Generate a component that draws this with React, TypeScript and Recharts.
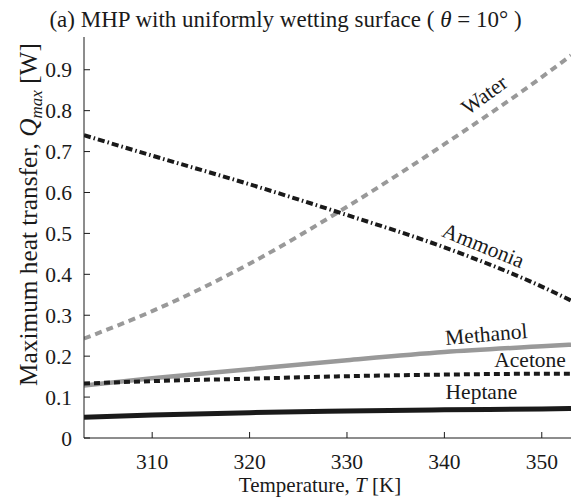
import React from "react";
import { LineChart, Line, XAxis, YAxis, ReferenceDot } from "recharts";

const temps = [303, 310, 320, 330, 340, 350, 353];
const water = [0.243, 0.31, 0.426, 0.565, 0.718, 0.882, 0.935];
const ammonia = [0.74, 0.69, 0.62, 0.545, 0.466, 0.37, 0.336];
const methanol = [0.128, 0.146, 0.168, 0.19, 0.21, 0.224, 0.228];
const acetone = [0.133, 0.139, 0.145, 0.151, 0.155, 0.157, 0.157];
const heptane = [0.051, 0.056, 0.062, 0.066, 0.069, 0.071, 0.072];

const xTicks = [310, 320, 330, 340, 350];
const yTicks = [0, 0.1, 0.2, 0.3, 0.4, 0.5, 0.6, 0.7, 0.8, 0.9];

const seriesLabels = [
  { name: "Water", t: 344.1, q: 0.838, rot: -36 },
  { name: "Ammonia", t: 344.0, q: 0.47, rot: 22 },
  { name: "Methanol", t: 344.3, q: 0.253, rot: -5 },
  { name: "Acetone", t: 348.8, q: 0.19, rot: 0 },
  { name: "Heptane", t: 343.8, q: 0.112, rot: 0 },
];

const data = temps.map((t, i) => ({
  t,
  water: water[i],
  ammonia: ammonia[i],
  methanol: methanol[i],
  acetone: acetone[i],
  heptane: heptane[i],
}));

const FONT = "'Liberation Serif', 'Times New Roman', serif";
const INK = "#1a1a1a";
const GRAY = "#999999";

const renderXTick = (props: any) => {
  const { x, y, payload } = props;
  return (
    <g key={`xt-${payload.value}`}>
      <line x1={x} x2={x} y1={y} y2={y - 6} stroke={INK} strokeWidth={1} />
      <text
        x={x}
        y={y + 30.5}
        textAnchor="middle"
        style={{ fontFamily: FONT, fontSize: 21.5 }}
        fill={INK}
      >
        {payload.value}
      </text>
    </g>
  );
};

const renderYTick = (props: any) => {
  const { x, y, payload } = props;
  const v = payload.value === 0 ? "0" : Number(payload.value).toFixed(1);
  return (
    <g key={`yt-${payload.value}`}>
      <line x1={x} x2={x + 6} y1={y} y2={y} stroke={INK} strokeWidth={1} />
      <text
        x={x - 12}
        y={y + 7.5}
        textAnchor="end"
        style={{ fontFamily: FONT, fontSize: 21.5 }}
        fill={INK}
      >
        {v}
      </text>
    </g>
  );
};

const makeLabel = (labelText: string, rot: number) => (props: any) => {
  const { viewBox } = props;
  const cx = viewBox.x + (viewBox.width || 0) / 2;
  const cy = viewBox.y + (viewBox.height || 0) / 2;
  return (
    <g transform={`translate(${cx}, ${cy}) rotate(${rot})`}>
      <text
        x={0}
        y={0}
        textAnchor="middle"
        dominantBaseline="central"
        style={{ fontFamily: FONT, fontSize: 21.5 }}
        fill={INK}
      >
        {labelText}
      </text>
    </g>
  );
};

export default function App() {
  return (
    <div style={{ position: "absolute", left: 0, top: 0, width: 584, height: 500, background: "#fff" }}>
      <LineChart width={584} height={500} data={data} margin={{ top: 37, right: 13, bottom: 0, left: 0 }}>
        <XAxis
          dataKey="t"
          type="number"
          domain={[303, 353]}
          ticks={xTicks}
          allowDataOverflow
          tickSize={0}
          tickMargin={0}
          tickLine={false}
          height={62}
          stroke={INK}
          tick={renderXTick}
        />
        <YAxis
          type="number"
          domain={[0, 0.98]}
          ticks={yTicks}
          allowDataOverflow
          tickSize={0}
          tickMargin={0}
          tickLine={false}
          width={84}
          stroke={INK}
          tick={renderYTick}
        />
        <Line dataKey="water" type="monotone" stroke={GRAY} strokeWidth={4} strokeDasharray="7 5" dot={false} isAnimationActive={false} />
        <Line dataKey="ammonia" type="monotone" stroke={INK} strokeWidth={4} strokeDasharray="7 3 1.5 3" dot={false} isAnimationActive={false} />
        <Line dataKey="methanol" type="monotone" stroke={GRAY} strokeWidth={4.5} dot={false} isAnimationActive={false} />
        <Line dataKey="acetone" type="monotone" stroke={INK} strokeWidth={4} strokeDasharray="6 4" dot={false} isAnimationActive={false} />
        <Line dataKey="heptane" type="monotone" stroke={INK} strokeWidth={5} dot={false} isAnimationActive={false} />
        {seriesLabels.map((s) => (
          <ReferenceDot
            key={s.name}
            x={s.t}
            y={s.q}
            r={1}
            fill="none"
            stroke="none"
            label={{ content: makeLabel(s.name, s.rot) }}
          />
        ))}
      </LineChart>
      <svg width={584} height={500} style={{ position: "absolute", left: 0, top: 0, pointerEvents: "none" }}>
        <text x={285.5} y={27} textAnchor="middle" style={{ fontFamily: FONT, fontSize: 23 }} fill={INK}>
          (a) MHP with uniformly wetting surface ({" "}
          <tspan fontStyle="italic">θ</tspan> = 10° )
        </text>
        <text x={320} y={492} textAnchor="middle" style={{ fontFamily: FONT, fontSize: 21 }} fill={INK}>
          Temperature,{"  "}
          <tspan fontStyle="italic">T</tspan> [K]
        </text>
        <text
          transform="rotate(-90)"
          x={-214.5}
          y={37}
          textAnchor="middle"
          style={{ fontFamily: FONT, fontSize: 25.3 }}
          fill={INK}
        >
          Maximum heat transfer,{" "}
          <tspan fontStyle="italic">Q</tspan>
          <tspan fontStyle="italic" fontSize={17} dy={5}>max</tspan>
          <tspan dy={-5}> [W]</tspan>
        </text>
      </svg>
    </div>
  );
}
